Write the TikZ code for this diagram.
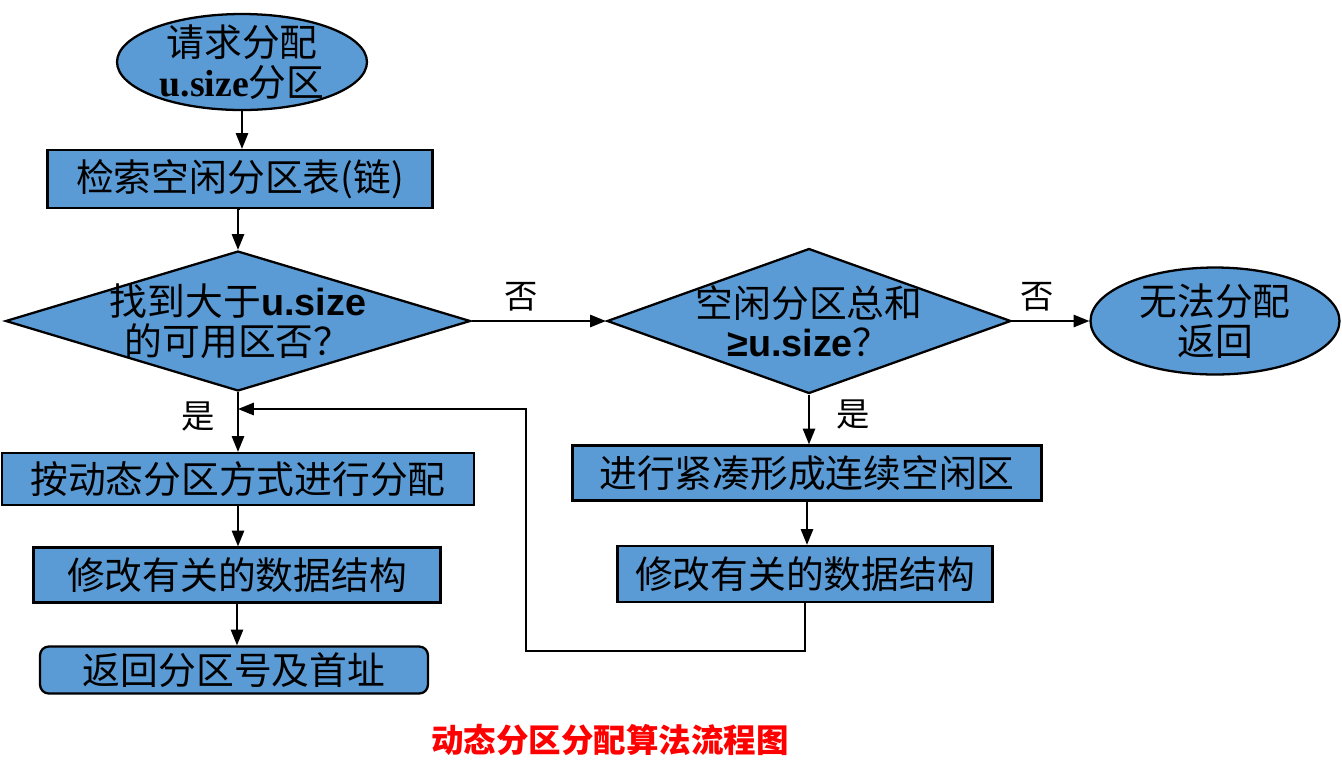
\documentclass[tikz,border=0pt]{standalone}
\usepackage{fontspec}
\setmainfont{Noto Sans CJK SC}
\newfontfamily\timesbf{Liberation Serif}
\newfontfamily\arialbf{Liberation Sans}
\usetikzlibrary{arrows.meta}
\usetikzlibrary{shapes.geometric}
\definecolor{boxblue}{RGB}{91,155,213}
\definecolor{titlered}{RGB}{255,0,0}
\newcommand{\usz}{{\timesbf\bfseries u.size}}
\newcommand{\uszs}{{\arialbf\bfseries u.size}}

\tikzset{
	flowbox/.style={draw, line width=1.3pt, fill=boxblue, inner sep=0pt,
		font=\fontsize{21.5}{25}\selectfont},
	terminal/.style={ellipse, draw, line width=1.3pt, fill=boxblue, inner sep=0pt},
	decision/.style={diamond, draw, line width=1.3pt, fill=boxblue, inner sep=0pt},
	shapetext/.style={align=center, font=\fontsize{21.5}{22.5}\selectfont},
	yesno/.style={font=\fontsize{19}{22}\selectfont},
	flowarrow/.style={line width=1.1pt, -{Triangle[length=9pt,width=7pt]}}
}

\begin{document}
\begin{tikzpicture}[x=0.02cm, y=-0.02cm]
		\useasboundingbox (0,0) rectangle (1342,779);
		% left column
		\node[terminal, minimum width=5cm, minimum height=1.92cm,
			label={[shapetext]center:{请求分配\\\usz 分区}}] (start) at (242,62) {};
		\node[flowbox, minimum width=7.7cm, minimum height=1.16cm] (search) at (240,179) {检索空闲分区表(链)};
		\node[decision, minimum width=9.3cm, minimum height=2.8cm,
			label={[shapetext]center:{找到大于\uszs\\的可用区否？}}] (found) at (238,321) {};
		\node[flowbox, minimum width=9.44cm, minimum height=1.04cm] (alloc) at (238,479) {按动态分区方式进行分配};
		\node[flowbox, minimum width=8.14cm, minimum height=1.1cm] (modl) at (237,575) {修改有关的数据结构};
		\node[flowbox, rounded corners=5pt, minimum width=7.76cm, minimum height=0.94cm] (ret) at (234,670) {返回分区号及首址};
		% right column
		\node[decision, minimum width=8.08cm, minimum height=2.9cm,
			label={[shapetext]center:{空闲分区总和\\{\arialbf\bfseries ≥}\uszs？}}] (total) at (809,321) {};
		\node[terminal, minimum width=4.98cm, minimum height=2.14cm,
			label={[shapetext]center:{无法分配\\返回}}] (fail) at (1215,321) {};
		\node[flowbox, minimum width=9.38cm, minimum height=1.1cm] (compact) at (807,473) {进行紧凑形成连续空闲区};
		\node[flowbox, minimum width=7.5cm, minimum height=1.12cm] (modr) at (805,574) {修改有关的数据结构};
		% caption
		\node[font=\fontsize{18.5}{22}\selectfont\bfseries, text=titlered] (caption) at (610,740) {动态分区分配算法流程图};

		\coordinate (lowturn) at (526,651);
		\coordinate (upturn) at (526,409);

		\draw[flowarrow] (start.south) -- (start.south |- search.north);
		\draw[flowarrow] (search.south) -- (search.south -| found.north) -- (found.north);
		\draw[flowarrow] (found.south) -- (found.south |- alloc.north) node[yesno, pos=0.4, left=9pt] {是};
		\draw[flowarrow] (alloc.south) -- (alloc.south |- modl.north);
		\draw[flowarrow] (modl.south) -- (modl.south |- ret.north);
		\draw[flowarrow] (found.east) -- (total.west) node[yesno, pos=0.37, above=2pt] {否};
		\draw[flowarrow] (total.east) -- (fail.west) node[yesno, pos=0.33, above=2pt] {否};
		\draw[flowarrow] (total.south) -- (total.south |- compact.north) node[yesno, pos=0.4, right=12pt] {是};
		\draw[flowarrow] (compact.south) -- (compact.south |- modr.north);
		\draw[flowarrow] (modr.south) |- (lowturn) -- (upturn) -- (upturn -| found.south);
	\end{tikzpicture}
\end{document}
